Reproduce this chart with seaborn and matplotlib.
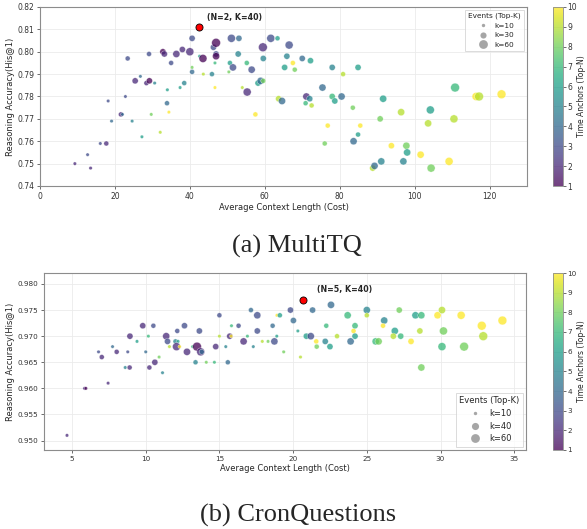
import numpy as np
import pandas as pd
import matplotlib
matplotlib.use("Agg")
import matplotlib.pyplot as plt
import seaborn as sns
from matplotlib.lines import Line2D
from matplotlib.colors import Normalize
from matplotlib.cm import ScalarMappable

# ---------------- data: MultiTQ ----------------
mtq_cost = [9.3, 12.7, 13.5, 16.1, 17.7, 18.2, 19.1, 21.6, 22.0, 22.8, 23.4, 24.6, 25.4, 26.8, 27.2,
            28.4, 29.2, 29.1, 29.7, 30.6, 32.1, 32.8, 33.2, 33.9, 34.0, 34.4, 35.0, 36.4, 37.4, 38.0,
            38.5, 40.0, 40.6, 40.6, 40.6, 42.6, 43.5, 43.6, 45.9, 46.3, 46.7, 46.7, 47.0, 47.0, 47.0,
            50.4, 50.7, 51.1, 51.5, 53.1, 52.9, 54.0, 55.2, 55.3, 56.5, 57.5, 58.2, 58.9, 59.6, 59.5,
            59.6, 61.6, 63.4, 63.7, 64.6, 65.3, 65.9, 66.5, 67.5, 68.0, 70.0, 72.2, 71.1, 72.0, 70.9,
            72.5, 75.4, 76.0, 76.8, 78.0, 78.0, 78.7, 80.5, 80.9, 83.5, 83.7, 84.9, 84.9, 85.5, 88.8,
            89.3, 90.8, 91.1, 91.6, 93.8, 96.4, 97.0, 97.8, 98.0, 101.6, 103.6, 104.2, 104.4, 109.2,
            110.5, 110.8, 116.4, 117.2, 123.2]
mtq_acc = [0.750, 0.754, 0.748, 0.759, 0.759, 0.778, 0.769, 0.772, 0.772, 0.780, 0.797, 0.769, 0.787, 0.789, 0.762,
           0.786, 0.787, 0.799, 0.772, 0.786, 0.764, 0.800, 0.799, 0.777, 0.783, 0.773, 0.795, 0.799, 0.784, 0.801,
           0.786, 0.800, 0.806, 0.793, 0.791, 0.798, 0.797, 0.790, 0.790, 0.802, 0.784, 0.795, 0.804, 0.799, 0.798,
           0.791, 0.795, 0.806, 0.793, 0.806, 0.799, 0.784, 0.795, 0.782, 0.792, 0.772, 0.786, 0.787, 0.787, 0.802,
           0.797, 0.806, 0.806, 0.779, 0.778, 0.793, 0.798, 0.803, 0.795, 0.792, 0.797, 0.796, 0.780, 0.779, 0.777,
           0.776, 0.784, 0.759, 0.767, 0.793, 0.780, 0.778, 0.780, 0.790, 0.775, 0.760, 0.793, 0.763, 0.767, 0.748,
           0.749, 0.770, 0.751, 0.779, 0.758, 0.773, 0.751, 0.758, 0.755, 0.754, 0.768, 0.774, 0.748, 0.751,
           0.770, 0.784, 0.780, 0.780, 0.781]
mtq_n = [2, 3, 2, 3, 2, 3, 4, 2, 4, 3, 3, 5, 2, 4, 6,
         2, 1, 3, 8, 5, 9, 1, 2, 4, 6, 10, 3, 2, 6, 2,
         5, 2, 3, 8, 4, 6, 1, 9, 5, 3, 10, 7, 1, 3, 1,
         8, 6, 3, 3, 4, 5, 9, 7, 2, 3, 10, 6, 4, 8, 2,
         5, 3, 6, 9, 4, 6, 5, 3, 10, 8, 4, 6, 2, 5, 7,
         9, 4, 8, 10, 5, 7, 6, 4, 9, 8, 4, 6, 6, 10, 9,
         4, 8, 5, 6, 10, 9, 5, 8, 6, 10, 9, 6, 8, 10,
         9, 7, 10, 9, 10]
mtq_k = [10, 10, 10, 10, 20, 10, 10, 20, 10, 10, 20, 10, 30, 10, 10,
         20, 30, 20, 10, 10, 10, 30, 30, 20, 10, 10, 20, 40, 10, 30,
         20, 50, 30, 10, 20, 10, 50, 10, 20, 30, 10, 10, 60, 30, 40,
         10, 20, 50, 40, 30, 30, 10, 20, 50, 40, 20, 30, 40, 20, 60,
         30, 50, 20, 30, 40, 30, 30, 50, 20, 20, 30, 30, 40, 30, 20,
         20, 40, 20, 20, 30, 30, 30, 40, 20, 20, 40, 30, 20, 20, 30,
         40, 30, 40, 40, 30, 40, 40, 40, 40, 40, 40, 50, 50, 50,
         50, 60, 50, 60, 60]
mtq_best = (42.4, 0.811)
mtq_best_label = "(N=2, K=40)"

# ---------------- data: CronQuestions ----------------
cq_cost = [4.66, 5.85, 5.94, 6.80, 7.02, 7.45, 7.75, 8.03, 8.61, 8.78, 8.91, 8.93, 9.41, 9.80, 10.0,
           10.18, 10.25, 10.52, 10.62, 10.91, 11.14, 11.39, 11.48, 11.61, 12.02, 12.14, 12.2, 12.09, 12.3, 12.63,
           12.80, 13.18, 13.38, 13.48, 13.64, 13.73, 13.8, 14.11, 14.66, 14.75, 15.0, 15.0, 15.43, 15.57, 15.70,
           15.8, 15.82, 16.3, 16.64, 16.9, 17.14, 17.3, 17.57, 17.57, 17.91, 18.3, 18.61, 18.73, 18.89, 18.9,
           19.1, 19.36, 19.82, 20.02, 20.32, 20.5, 20.9, 21.2, 21.32, 21.57, 21.6, 22.25, 22.18, 22.5, 22.57,
           22.98, 23.7, 23.9, 24.1, 24.2, 24.2, 25.0, 25.0, 26.18, 26.1, 25.6, 25.8, 27.2, 26.9, 26.8,
           27.3, 28.0, 28.3, 28.7, 28.6, 28.7, 29.8, 30.1, 30.1, 30.2, 31.4, 31.6, 32.8, 32.9, 34.2]
cq_acc = [0.951, 0.960, 0.960, 0.967, 0.966, 0.961, 0.968, 0.967, 0.964, 0.967, 0.964, 0.970, 0.969, 0.972, 0.967,
          0.970, 0.964, 0.972, 0.965, 0.966, 0.963, 0.970, 0.969, 0.968, 0.969, 0.971, 0.969, 0.968, 0.968, 0.972,
          0.967, 0.968, 0.965, 0.968, 0.971, 0.967, 0.967, 0.965, 0.965, 0.968, 0.974, 0.970, 0.968, 0.965, 0.970,
          0.970, 0.972, 0.972, 0.969, 0.970, 0.975, 0.968, 0.974, 0.971, 0.969, 0.969, 0.972, 0.969, 0.970, 0.974,
          0.974, 0.967, 0.975, 0.973, 0.971, 0.966, 0.970, 0.970, 0.975, 0.969, 0.968, 0.972, 0.969, 0.968, 0.976,
          0.970, 0.974, 0.969, 0.971, 0.972, 0.970, 0.975, 0.974, 0.973, 0.972, 0.969, 0.969, 0.975, 0.971, 0.970,
          0.970, 0.969, 0.974, 0.974, 0.971, 0.964, 0.974, 0.975, 0.968, 0.971, 0.974, 0.968, 0.972, 0.970, 0.973]
cq_n = [2, 2, 1, 3, 2, 2, 4, 2, 5, 3, 2, 2, 6, 2, 4,
        7, 2, 3, 2, 8, 5, 2, 3, 9, 5, 3, 6, 2, 10, 3,
        2, 7, 5, 1, 3, 2, 4, 8, 7, 2, 3, 9, 5, 4, 2,
        10, 7, 3, 2, 7, 4, 5, 3, 3, 9, 8, 4, 3, 6, 10,
        6, 8, 3, 4, 6, 9, 6, 3, 4, 10, 8, 7, 5, 6, 4,
        9, 7, 4, 10, 7, 6, 5, 9, 5, 10, 7, 8, 8, 6, 9,
        7, 10, 6, 7, 9, 8, 10, 9, 7, 8, 10, 8, 10, 9, 10]
cq_k = [10, 10, 10, 10, 20, 10, 10, 20, 10, 10, 20, 30, 10, 30, 10,
        10, 20, 20, 30, 10, 10, 40, 30, 10, 20, 20, 10, 50, 10, 30,
        40, 10, 20, 60, 30, 50, 20, 10, 10, 30, 20, 10, 10, 20, 30,
        10, 10, 20, 40, 10, 20, 10, 40, 30, 10, 10, 20, 40, 10, 10,
        20, 10, 30, 30, 10, 10, 30, 40, 30, 20, 20, 20, 30, 30, 40,
        20, 40, 40, 20, 30, 30, 40, 20, 40, 20, 40, 40, 30, 40, 30,
        30, 30, 40, 40, 30, 40, 40, 40, 50, 50, 50, 60, 60, 60, 60]
cq_best = (20.68, 0.977)
cq_best_label = "(N=5, K=40)"

# ---------------- style ----------------
sns.set_theme(style="whitegrid", rc={
    "axes.edgecolor": "#8c8c8c",
    "axes.linewidth": 0.8,
    "grid.color": "#ebebeb",
    "grid.linewidth": 0.6,
    "xtick.bottom": True,
    "ytick.left": True,
    "xtick.color": "#333333",
    "ytick.color": "#333333",
})
plt.rcParams["font.family"] = ["DejaVu Sans"]

SIZE_RANGE = (6, 40)
SIZE_NORM = (10, 60)
ALPHA = 0.75


def k_to_s(k):
    return SIZE_RANGE[0] + (k - SIZE_NORM[0]) / (SIZE_NORM[1] - SIZE_NORM[0]) * (SIZE_RANGE[1] - SIZE_RANGE[0])


fig = plt.figure(figsize=(5.87, 5.29), dpi=100)
W, H = 587.0, 529.0


def rect(l, t, r, b):
    return [l / W, 1 - b / H, (r - l) / W, (b - t) / H]


def panel(ax_rect, cax_rect, cost, acc, n, k, best, best_label, ann_off,
          xlim, ylim, yticks, xticks, leg_ks, leg_loc, tick_fs, lab_fs, leg_fs):
    ax = fig.add_axes(rect(*ax_rect))
    cax = fig.add_axes(rect(*cax_rect))
    df = pd.DataFrame({"cost": cost, "acc": acc, "N": n, "K": k})
    sns.scatterplot(data=df, x="cost", y="acc", hue="N", size="K", palette="viridis",
                    hue_norm=(1, 10), sizes=SIZE_RANGE, size_norm=SIZE_NORM, alpha=ALPHA,
                    edgecolor="white", linewidth=0.3, legend=False, ax=ax)
    ax.scatter([best[0]], [best[1]], s=26, c="red", edgecolors="black", linewidths=0.6, zorder=5)
    ax.annotate(best_label, xy=best, xytext=ann_off, textcoords="offset points",
                fontsize=lab_fs - 0.3, fontweight="bold", ha="left", va="bottom")
    ax.set_xlim(*xlim)
    ax.set_ylim(*ylim)
    ax.set_xticks(xticks)
    ax.set_yticks(yticks)
    ax.tick_params(labelsize=tick_fs, length=2.5, width=0.6, pad=1.5, color="#555555")
    ax.set_xlabel("Average Context Length (Cost)", fontsize=lab_fs, labelpad=1.5)
    ax.set_ylabel("Reasoning Accuracy(His@1)", fontsize=lab_fs, labelpad=2)
    handles = [Line2D([], [], marker="o", linestyle="", markerfacecolor="#a6a6a6",
                      markeredgecolor="none", markersize=np.sqrt(k_to_s(kk)),
                      label=f"k={kk}") for kk in leg_ks]
    leg = ax.legend(handles=handles, title="Events (Top-K)", loc=leg_loc, fontsize=leg_fs,
                    title_fontsize=leg_fs, frameon=True, fancybox=False, borderpad=0.4,
                    handletextpad=0.6, labelspacing=0.45, borderaxespad=0.4)
    leg.get_frame().set_edgecolor("#cccccc")
    leg.get_frame().set_linewidth(0.6)
    sm = ScalarMappable(norm=Normalize(1, 10), cmap="viridis")
    cb = fig.colorbar(sm, cax=cax, alpha=ALPHA)
    cb.set_ticks(range(1, 11))
    cb.ax.tick_params(labelsize=tick_fs, length=2, width=0.5, pad=1)
    cb.outline.set_edgecolor("#8c8c8c")
    cb.outline.set_linewidth(0.6)
    cb.set_label("Time Anchors (Top-N)", fontsize=lab_fs - 0.5, labelpad=0.5)
    return ax


panel((40, 7, 527, 186), (553, 7, 563, 186), mtq_cost, mtq_acc, mtq_n, mtq_k,
      mtq_best, mtq_best_label, (6, 4),
      (0, 130), (0.74, 0.82), np.arange(0.74, 0.8201, 0.01), [0, 20, 40, 60, 80, 100, 120],
      [10, 30, 60], "upper right", 5.5, 6.0, 5.3)

panel((44, 273, 526, 450), (553, 273, 563, 450), cq_cost, cq_acc, cq_n, cq_k,
      cq_best, cq_best_label, (10, 4),
      (3.1, 35.8), (0.9482, 0.9821), np.arange(0.950, 0.9801, 0.005), [5, 10, 15, 20, 25, 30, 35],
      [10, 40, 60], "lower right", 5.2, 6.0, 6.0)

fig.text(297 / W, 1 - 246 / H, "(a) MultiTQ", ha="center", va="center",
         family=["Liberation Serif", "DejaVu Serif"], fontsize=19)
fig.text(298 / W, 1 - 515 / H, "(b) CronQuestions", ha="center", va="center",
         family=["Liberation Serif", "DejaVu Serif"], fontsize=19)

fig.savefig("out.png", dpi=100)
